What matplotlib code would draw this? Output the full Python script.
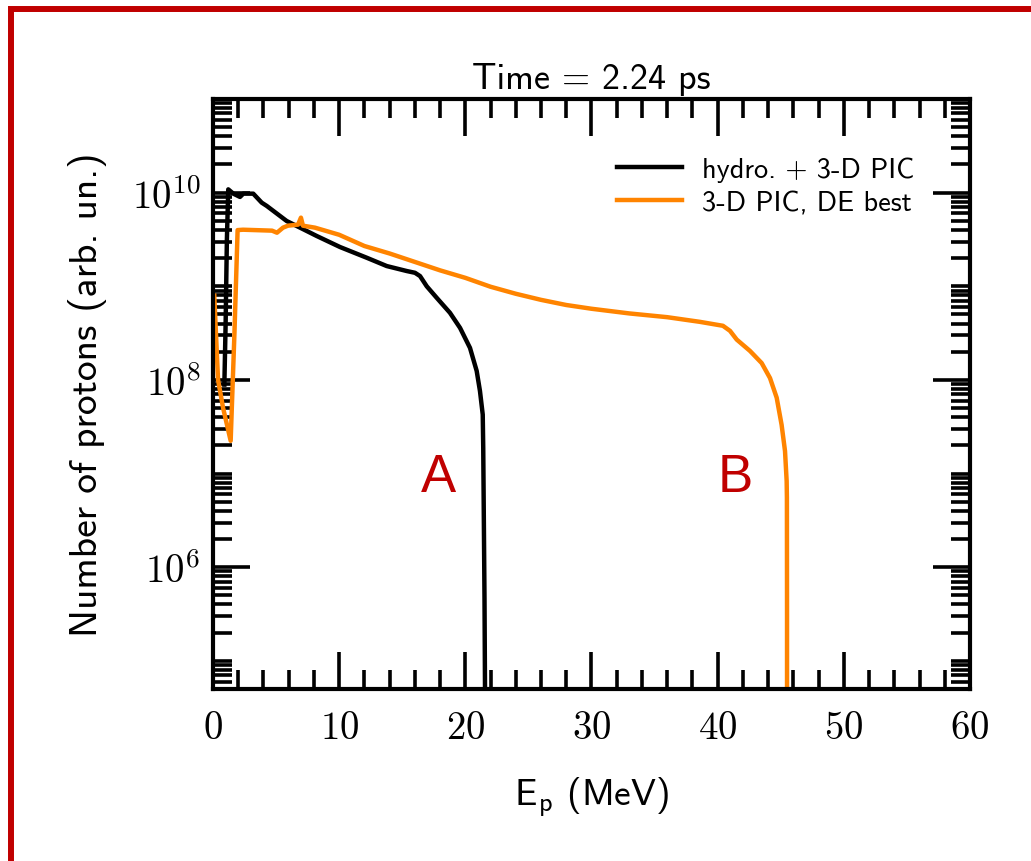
import numpy as np
import matplotlib
matplotlib.use('Agg')
import matplotlib.pyplot as plt
from matplotlib.ticker import MultipleLocator, LogLocator, FuncFormatter, NullFormatter
from matplotlib.lines import Line2D

plt.rcParams['font.family'] = 'cmss10'
plt.rcParams['mathtext.fontset'] = 'cm'
plt.rcParams['axes.unicode_minus'] = False

# energy (MeV) and log10 of proton number
e_hydro = [0.9, 1.0, 1.1, 1.21, 1.61, 2.14, 2.40, 3.19, 3.86, 4.26, 5.84, 6.90, 8.22,
           10.07, 12.18, 13.77, 15.35, 16.01, 16.41, 16.94, 17.73, 18.78, 19.58, 20.37,
           20.9, 21.16, 21.38, 21.42, 21.52, 21.56, 21.57]
lg_hydro = [7.95, 8.6, 9.5, 10.035, 9.989, 9.954, 9.989, 9.989, 9.893, 9.858, 9.697, 9.626, 9.537,
            9.419, 9.305, 9.216, 9.163, 9.144, 9.109, 9.0, 8.877, 8.717, 8.556, 8.342,
            8.096, 7.882, 7.63, 7.27, 5.67, 4.7, 4.5]

e_de = [0.1, 0.4, 0.8, 1.4, 1.7, 1.95, 2.38, 4.68, 5.07, 5.55, 5.94, 6.74, 6.97, 7.13, 8.08,
        10.0, 12.0, 14.0, 16.0, 18.0, 20.0, 22.0, 24.0, 26.0, 28.0, 30.0, 33.0, 36.0, 38.6,
        40.42, 40.98, 41.51, 42.56, 43.49, 44.15, 44.68, 45.07, 45.34, 45.47, 45.49, 45.5, 45.5]
lg_de = [8.9, 8.0, 7.7, 7.35, 8.5, 9.6, 9.604, 9.594, 9.572, 9.626, 9.647, 9.658, 9.733, 9.647, 9.626,
         9.55, 9.43, 9.35, 9.26, 9.17, 9.09, 8.995, 8.92, 8.855, 8.80, 8.76, 8.71, 8.67, 8.62,
         8.578, 8.524, 8.431, 8.31, 8.18, 8.02, 7.81, 7.52, 7.24, 6.92, 6.74, 5.5, 4.5]

labels = ['hydro. + 3-D PIC', '3-D PIC, DE best']

fig = plt.figure(figsize=(10.31, 8.62), dpi=100)
ax = fig.add_axes([0.2066, 0.1995, 0.7342, 0.6845])

ax.plot(e_hydro, 10**np.array(lg_hydro), color='black', lw=3.2, label=labels[0])
ax.plot(e_de, 10**np.array(lg_de), color='#ff8400', lw=3.2, label=labels[1])

ax.set_yscale('log')
ax.set_xlim(0, 60)
ax.set_ylim(5e4, 1e11)

ax.xaxis.set_major_locator(MultipleLocator(10))
ax.xaxis.set_minor_locator(MultipleLocator(2))
ax.yaxis.set_major_locator(LogLocator(base=100))
ax.yaxis.set_minor_locator(LogLocator(base=10, subs=np.arange(1, 10), numticks=30))
ax.xaxis.set_major_formatter(FuncFormatter(lambda v, p: r'$%d$' % v))
ax.yaxis.set_major_formatter(FuncFormatter(lambda v, p: r'$10^{%d}$' % round(np.log10(v))))
ax.yaxis.set_minor_formatter(NullFormatter())

ax.tick_params(which='both', direction='in', top=True, right=True, width=2.6, labelsize=28)
ax.tick_params(which='major', length=26.5)
ax.tick_params(which='minor', length=13.5)
ax.tick_params(axis='x', pad=16)
ax.tick_params(axis='y', pad=9)
for s in ax.spines.values():
    s.set_linewidth(3)

ax.set_title('Time = 2.24 ps', fontsize=26, pad=8)
ax.set_xlabel(r'E$_\mathsf{p}$ (MeV)', fontsize=27, labelpad=20)
ax.set_ylabel('Number of protons (arb. un.)', fontsize=28.5, labelpad=18)

ax.legend(loc='upper left', bbox_to_anchor=(0.534, 0.903), frameon=False, fontsize=20.4,
          handlelength=2.3, handletextpad=0.7, borderpad=0, borderaxespad=0, labelspacing=0.3)

ax.text(17.85, 10**6.81, 'A', color='#c00000', fontsize=38, family='Liberation Sans',
        ha='center', va='baseline')
ax.text(41.4, 10**6.81, 'B', color='#c00000', fontsize=38, family='Liberation Sans',
        ha='center', va='baseline')

# red frame around the slide
fig.add_artist(Line2D([0.0107, 0.0107, 1.0], [0.0, 0.988, 0.988], transform=fig.transFigure,
                      color='#c00000', lw=4.3, solid_joinstyle='miter'))

fig.savefig('out.png', dpi=100)
